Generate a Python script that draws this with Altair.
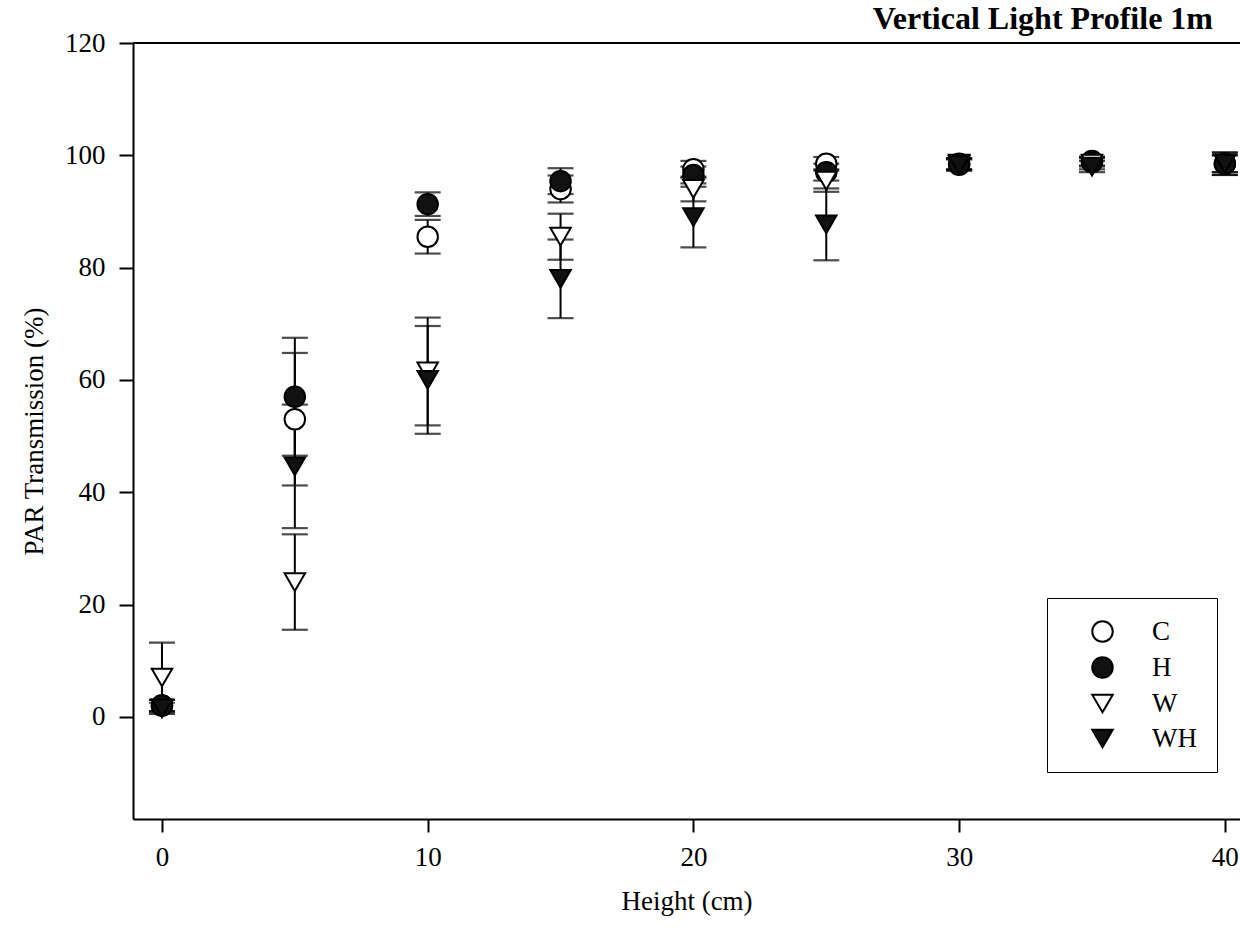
import altair as alt
import pandas as pd

heights = [0, 5, 10, 15, 20, 25, 30, 35, 40]
series = ["C", "H", "W", "WH"]
c_vals = [2, 53, 85.5, 94, 97.5, 98.5, 98.5, 99, 98.5]
c_err = [1, 11.8, 3, 2.4, 1.5, 1.2, 1, 0.8, 1.5]
h_vals = [2, 57, 91.3, 95.4, 96.5, 97, 98.3, 98.8, 98.5]
h_err = [1, 10.5, 2.1, 2.3, 1.5, 1.5, 1, 0.8, 2]
w_vals = [7, 24, 61.5, 85.5, 94, 95.5, 98.5, 98.5, 98.5]
w_err = [6.2, 8.5, 9.6, 4.1, 2.2, 2, 1, 1, 1.5]
wh_vals = [1.5, 44.6, 60, 78, 89, 87.7, 98.3, 98, 98.5]
wh_err = [1, 11, 9.6, 7, 5.4, 6.4, 1, 1, 2]

rows = []
for k, (s, vals, errs) in enumerate(zip(series, [c_vals, h_vals, w_vals, wh_vals],
                                        [c_err, h_err, w_err, wh_err])):
    for x, v, e in zip(heights, vals, errs):
        rows.append({"Height": x, "PAR": v, "lo": v - e, "hi": v + e,
                     "Treatment": s, "ord": k})
df = pd.DataFrame(rows)

FONT = "Liberation Serif"
W, H = 1107, 776

xscale = alt.Scale(domain=[-1.09, 40.57], nice=False, zero=False)
yscale = alt.Scale(domain=[-18.2, 120], nice=False, zero=False)

xaxis = alt.Axis(values=heights[::2], title="Height (cm)", grid=False,
                 tickSize=13, tickWidth=2, domainWidth=2, domainColor="black",
                 tickColor="black", labelFont=FONT, labelFontSize=27,
                 labelColor="black", labelPadding=12, titleFont=FONT,
                 titleFontSize=27, titleFontWeight="normal", titleColor="black",
                 titlePadding=18)
yaxis = alt.Axis(values=[0, 20, 40, 60, 80, 100, 120], title="PAR Transmission (%)",
                 grid=False, tickSize=14, tickWidth=2, domainWidth=2,
                 domainColor="black", tickColor="black", labelFont=FONT,
                 labelFontSize=27, labelColor="black", labelPadding=14,
                 titleFont=FONT, titleFontSize=27, titleFontWeight="normal",
                 titleColor="black", titlePadding=16)

base = alt.Chart(df)

rules = base.mark_rule(color="black", strokeWidth=2).encode(
    x=alt.X("Height:Q", scale=xscale, axis=xaxis),
    y=alt.Y("lo:Q", scale=yscale, axis=yaxis),
    y2="hi:Q",
)
caps_lo = base.mark_tick(orient="horizontal", size=26, thickness=2.2, color="black").encode(
    x=alt.X("Height:Q", scale=xscale), y=alt.Y("lo:Q", scale=yscale))
caps_hi = base.mark_tick(orient="horizontal", size=26, thickness=2.2, color="black").encode(
    x=alt.X("Height:Q", scale=xscale), y=alt.Y("hi:Q", scale=yscale))

legend = alt.Legend(title=None, orient="none", legendX=914, legendY=555,
                    strokeColor="black", padding=20, symbolOffset=22,
                    labelOffset=36, rowPadding=7, symbolSize=420,
                    symbolStrokeWidth=2,
                    labelFont=FONT, labelFontSize=27, labelColor="black")

points = base.mark_point(filled=True, strokeWidth=2, size=420, opacity=1).encode(
    x=alt.X("Height:Q", scale=xscale),
    y=alt.Y("PAR:Q", scale=yscale),
    shape=alt.Shape("Treatment:N", scale=alt.Scale(
        domain=series, range=["circle", "circle", "triangle-down", "triangle-down"]),
        legend=legend),
    fill=alt.Fill("Treatment:N", scale=alt.Scale(
        domain=series, range=["white", "#111111", "white", "#111111"]),
        legend=legend),
    stroke=alt.Stroke("Treatment:N", scale=alt.Scale(
        domain=series, range=["black", "black", "black", "black"]),
        legend=legend),
    order=alt.Order("ord:Q"),
)

top_line = alt.Chart(pd.DataFrame({"v": [0]})).mark_rule(
    color="black", strokeWidth=2).encode(
    y=alt.value(0), x=alt.value(0), x2=alt.value(W))

chart = alt.layer(rules, caps_lo, caps_hi, points, top_line).properties(
    width=W, height=H,
    autosize=alt.AutoSizeParams(type="none"),
    padding={"left": 133, "top": 43, "right": 0, "bottom": 121},
    title=alt.TitleParams("Vertical Light Profile 1m", anchor="end", font=FONT,
                          fontSize=32, fontWeight="bold", color="black",
                          dx=-28, dy=13, offset=6),
).configure_view(stroke=None).configure(background="white")

chart.save("out.html", embed_options={"renderer": "svg", "actions": False})
